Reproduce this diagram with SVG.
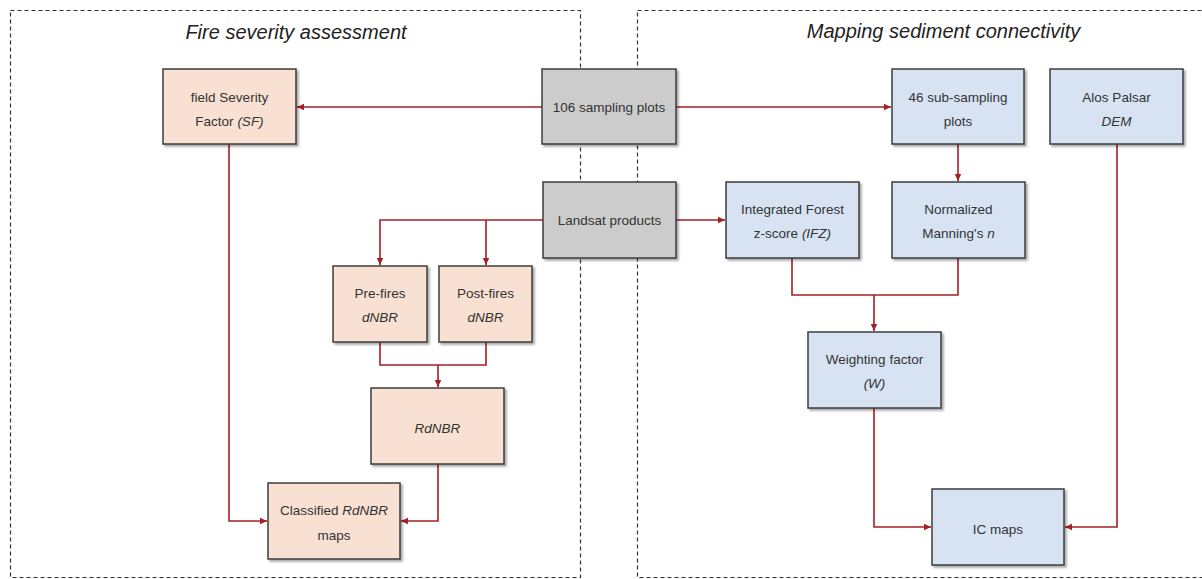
<svg xmlns="http://www.w3.org/2000/svg" width="1202" height="579" viewBox="0 0 1202 579">
<defs>
<style>
.panel{fill:none;stroke:#333;stroke-width:1.2;stroke-dasharray:4 3}
.title{font-family:"Liberation Sans",Arial,sans-serif;font-style:italic;font-size:20px;fill:#222;text-anchor:middle}
.box{stroke:#3c3c3c;stroke-width:1.5;filter:url(#sh)}
.fire{fill:#f8e1d2}
.map{fill:#d7e3f3}
.src{fill:#cccccc}
.t{font-family:"Liberation Sans",Arial,sans-serif;font-size:13.5px;fill:#333;text-anchor:middle}
.i{font-style:italic}
.c{fill:none;stroke:#a51f24;stroke-width:1.6}
</style>
<filter id="sh" x="-10%" y="-10%" width="130%" height="130%">
<feDropShadow dx="2" dy="2" stdDeviation="1.3" flood-color="#000" flood-opacity="0.35"/>
</filter>
<marker id="ah" markerWidth="8" markerHeight="8" refX="7" refY="4" orient="auto" markerUnits="userSpaceOnUse">
<path d="M0,0.8 L7,4 L0,7.2 z" fill="#a51f24"/>
</marker>
</defs>
<rect width="1202" height="579" fill="#fff"/>
<g id="panels">
<rect class="panel" x="10.5" y="10.5" width="570" height="567"/>
<rect class="panel" x="637.5" y="10.5" width="570" height="567"/>
<text class="title" x="296" y="39">Fire severity assessment</text>
<text class="title" x="943.5" y="38">Mapping sediment connectivity</text>
</g>
<g id="connectors">
<path class="c" d="M542,107 H297" marker-end="url(#ah)"/>
<path class="c" d="M676,107 H891" marker-end="url(#ah)"/>
<path class="c" d="M958,144 V181" marker-end="url(#ah)"/>
<path class="c" d="M1117,144 V527 H1065" marker-end="url(#ah)"/>
<path class="c" d="M676,220 H725" marker-end="url(#ah)"/>
<path class="c" d="M543,220 H380 V265" marker-end="url(#ah)"/>
<path class="c" d="M486,220 V265" marker-end="url(#ah)"/>
<path class="c" d="M380,342 V365 H486 V342"/>
<path class="c" d="M438,365 V387" marker-end="url(#ah)"/>
<path class="c" d="M438,464 V521 H401" marker-end="url(#ah)"/>
<path class="c" d="M229,144 V521 H267" marker-end="url(#ah)"/>
<path class="c" d="M792,258 V295 H958 V258"/>
<path class="c" d="M874,295 V331" marker-end="url(#ah)"/>
<path class="c" d="M874,408 V527 H931" marker-end="url(#ah)"/>
</g>
<g id="sf"><rect class="box fire" x="163" y="69" width="133" height="75"/><text class="t" x="229.5" y="102">field Severity</text><text class="t" x="229.5" y="126">Factor <tspan class="i">(SF)</tspan></text></g>
<g id="sampling"><rect class="box src" x="542" y="69" width="134" height="75"/><text class="t" x="609" y="112">106 sampling plots</text></g>
<g id="subsampling"><rect class="box map" x="892" y="69" width="132" height="75"/><text class="t" x="958" y="102">46 sub-sampling</text><text class="t" x="958" y="126">plots</text></g>
<g id="alos"><rect class="box map" x="1050" y="69" width="133" height="75"/><text class="t" x="1116.5" y="102">Alos Palsar</text><text class="t i" x="1116.5" y="126">DEM</text></g>
<g id="landsat"><rect class="box src" x="543" y="182" width="133" height="76"/><text class="t" x="609.5" y="225">Landsat products</text></g>
<g id="ifz"><rect class="box map" x="726" y="182" width="133" height="76"/><text class="t" x="792.5" y="214">Integrated Forest</text><text class="t" x="792.5" y="238">z-score <tspan class="i">(IFZ)</tspan></text></g>
<g id="manning"><rect class="box map" x="892" y="182" width="133" height="76"/><text class="t" x="958.5" y="214">Normalized</text><text class="t" x="958.5" y="238">Manning's <tspan class="i">n</tspan></text></g>
<g id="prefires"><rect class="box fire" x="333" y="266" width="94" height="76"/><text class="t" x="380" y="298">Pre-fires</text><text class="t i" x="380" y="322">dNBR</text></g>
<g id="postfires"><rect class="box fire" x="439" y="266" width="93" height="76"/><text class="t" x="485.5" y="298">Post-fires</text><text class="t i" x="485.5" y="322">dNBR</text></g>
<g id="rdnbr"><rect class="box fire" x="371" y="388" width="133" height="76"/><text class="t i" x="437.5" y="433">RdNBR</text></g>
<g id="classified"><rect class="box fire" x="268" y="483" width="132" height="76"/><text class="t" x="334" y="515">Classified <tspan class="i">RdNBR</tspan></text><text class="t" x="334" y="540">maps</text></g>
<g id="weighting"><rect class="box map" x="808" y="332" width="133" height="76"/><text class="t" x="874.5" y="364">Weighting factor</text><text class="t i" x="874.5" y="388">(W)</text></g>
<g id="icmaps"><rect class="box map" x="932" y="489" width="132" height="76"/><text class="t" x="998" y="534">IC maps</text></g>
</svg>
